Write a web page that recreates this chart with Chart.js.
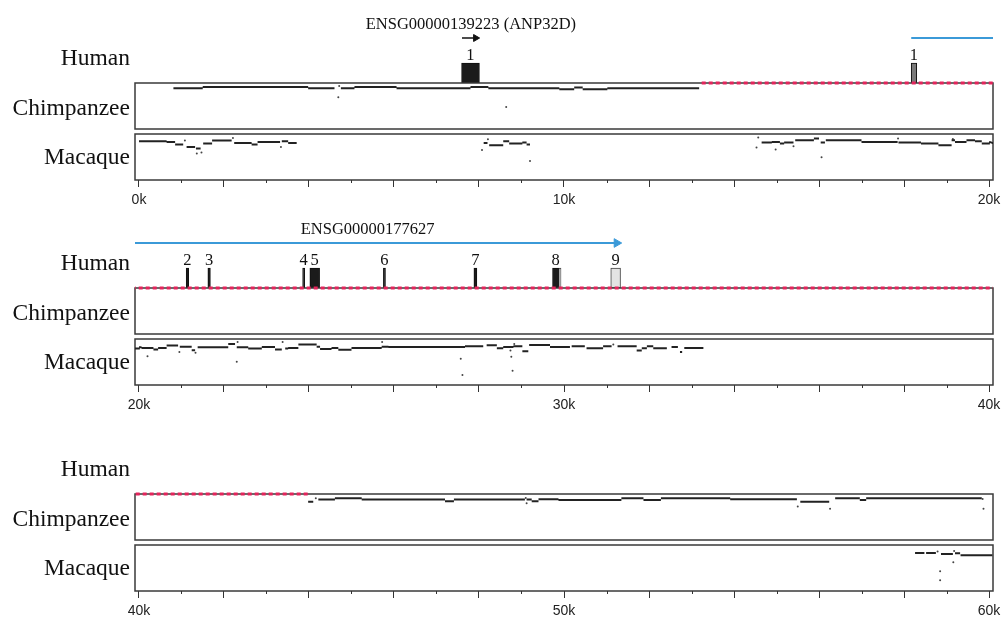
<!DOCTYPE html>
<html>
<head>
<meta charset="utf-8">
<script src="https://cdn.jsdelivr.net/npm/chart.js@4.4.1/dist/chart.umd.min.js"></script>
<style>
  html, body { margin: 0; padding: 0; background: #fff; overflow: hidden; }
  #wrap { position: relative; width: 1003px; height: 619px; overflow: hidden; }
  #wrap canvas { position: absolute; }
  .sp { position: absolute; left: 0; width: 130px; text-align: right; color: #111;
        font-family: "Liberation Serif", "Times New Roman", serif; font-size: 23.5px; line-height: 26px; }
</style>
</head>
<body>
<div id="wrap"></div>
<script>
// positions are in kb along the human sequence
const panelStart = [0, 20, 40];
const panelSpan = 20;
const species = ['Human', 'Chimpanzee', 'Macaque'];

// genes (direction arrows + names)
const geneName    = ['ENSG00000139223 (ANP32D)', 'ENSG00000177627'];
const geneLabelAt = [7.81, 25.38];
const geneStart   = [7.60, 18.17];
const geneEnd     = [7.92, 31.24];

// human exons
const exonStart = [7.59, 18.17, 21.11, 21.62, 23.85, 24.02, 25.75, 27.88, 29.73, 29.88, 31.10];
const exonEnd   = [8.01, 18.30, 21.17, 21.68, 23.90, 24.25, 25.80, 27.95, 29.88, 29.93, 31.33];
const exonLabel = ['1', '1', '2', '3', '4', '5', '6', '7', '8', '', '9'];
const exonKind  = ['cds', 'utr5', 'cds', 'cds', 'cds', 'cds', 'cds', 'cds', 'cds', 'utr3', 'utr3'];

// chimp has no alignment here (red dotted)
const chimpGap = [13.24, 43.98];

// gap-free alignments: [start kb, end kb, % identity]
const chimpSegs = [
  [0.81, 1.50, 94.3], [1.50, 3.98, 95.7], [3.98, 4.60, 94.3], [4.75, 5.07, 94.3],
  [5.07, 6.06, 95.7], [6.06, 7.80, 94.3], [7.80, 8.22, 95.7], [8.22, 9.89, 94.3],
  [9.89, 10.24, 93.2], [10.24, 10.44, 95.0], [10.44, 11.02, 93.2], [11.02, 13.18, 94.3],
  [43.98, 44.10, 91.7], [44.22, 44.61, 93.9], [44.61, 45.24, 95.3], [45.24, 47.20, 93.9],
  [47.20, 47.41, 92.0], [47.41, 49.08, 93.9], [49.12, 49.24, 93.9], [49.24, 49.40, 92.0],
  [49.40, 49.87, 94.2], [49.87, 51.35, 93.5], [51.35, 51.87, 95.3], [51.87, 52.28, 93.5],
  [52.28, 53.91, 95.3], [53.91, 55.48, 94.2], [55.56, 56.24, 91.7], [56.38, 56.96, 95.3],
  [56.96, 57.11, 93.5], [57.11, 59.83, 95.3]
];
const chimpDots = [
  [4.71, 96.8], [4.69, 84.6], [8.64, 73.9], [44.16, 95.3], [49.12, 89.9], [49.10, 95.7],
  [55.50, 86.4], [56.26, 83.9], [59.85, 94.7], [59.87, 83.9]
];

const macaqueSegs = [
  [0.00, 0.65, 92.1], [0.65, 0.85, 91.4], [0.85, 1.04, 88.6], [1.12, 1.32, 86.0],
  [1.34, 1.45, 84.3], [1.51, 1.72, 89.7], [1.72, 2.18, 92.9], [2.24, 2.65, 90.3],
  [2.65, 2.79, 88.6], [2.79, 3.32, 91.4], [3.36, 3.51, 92.1], [3.51, 3.71, 90.3],
  [8.11, 8.20, 90.3], [8.24, 8.57, 87.8], [8.57, 8.71, 92.1], [8.71, 9.02, 89.7],
  [9.02, 9.12, 90.8], [9.12, 9.20, 88.6],
  [14.65, 14.89, 90.8], [14.89, 15.08, 91.4], [15.08, 15.18, 89.7], [15.18, 15.40, 90.8],
  [15.44, 15.88, 93.2], [15.88, 16.00, 95.0], [16.04, 16.14, 90.8], [16.16, 17.00, 93.2],
  [17.00, 17.85, 91.4], [17.87, 18.40, 90.8], [18.40, 18.81, 89.7], [18.81, 19.12, 87.8],
  [19.12, 19.20, 93.2], [19.20, 19.47, 91.4], [19.47, 19.67, 93.2], [19.67, 19.83, 92.1],
  [19.83, 20.02, 89.7],
  [20.00, 20.06, 91.0], [20.06, 20.34, 90.3], [20.34, 20.45, 88.5], [20.45, 20.65, 90.3],
  [20.65, 20.92, 92.8], [20.96, 21.24, 91.7], [21.24, 21.32, 87.7], [21.38, 22.10, 91.0],
  [22.10, 22.26, 94.6], [22.30, 22.57, 91.0], [22.57, 22.89, 89.6], [22.89, 23.20, 91.4],
  [23.20, 23.36, 88.5], [23.44, 23.51, 89.6], [23.51, 23.75, 90.3], [23.75, 24.18, 93.9],
  [24.18, 24.26, 91.7], [24.26, 24.53, 89.2], [24.53, 24.69, 90.3], [24.69, 25.00, 88.2],
  [25.00, 25.71, 90.3], [25.71, 25.87, 91.7], [25.87, 27.12, 91.2], [27.12, 27.67, 91.4],
  [27.67, 28.10, 92.0], [28.18, 28.42, 93.1], [28.42, 28.57, 89.9], [28.57, 28.81, 91.4],
  [28.81, 29.02, 92.0], [29.02, 29.16, 86.7], [29.18, 29.67, 93.5], [29.67, 30.14, 91.4],
  [30.18, 30.49, 92.0], [30.53, 30.92, 89.9], [30.92, 31.12, 92.0], [31.26, 31.71, 92.0],
  [31.71, 31.83, 87.4], [31.83, 31.95, 89.9], [31.95, 32.10, 92.0], [32.10, 32.42, 89.9],
  [32.53, 32.68, 91.4], [32.73, 32.78, 86.0], [32.83, 33.28, 90.3],
  [58.26, 58.48, 91.4], [58.52, 58.75, 91.4], [58.87, 59.15, 90.3], [59.20, 59.32, 91.0],
  [59.33, 60.08, 88.8]
];
const macaqueDots = [
  [1.08, 92.9], [1.36, 78.9], [1.47, 80.0], [2.21, 95.7], [3.34, 86.0],
  [8.07, 82.5], [8.21, 94.3], [9.20, 70.6],
  [14.57, 96.1], [14.53, 85.4], [14.98, 83.2], [15.40, 86.8], [16.06, 74.6], [17.86, 95.0], [19.15, 94.6],
  [20.20, 81.3], [20.95, 86.0], [21.33, 85.0], [22.30, 75.3], [22.32, 96.8], [23.38, 96.8], [25.72, 96.8],
  [27.57, 78.5], [27.61, 60.8], [28.76, 80.6], [28.79, 65.5], [28.83, 94.6], [28.74, 87.4],
  [31.16, 93.9], [32.75, 86.0],
  [59.16, 81.3], [58.85, 71.6], [58.85, 61.6], [58.79, 92.8], [59.18, 93.6]
];

// layout / style
const PANEL_TOP = [0, 205, 411];
const EDGE = 0.094;          // box margin beyond the 0k / 20k ticks
const EXON_Y = 10, ARROW_Y = 45, NUM_Y = 23, NAME_Y = 54;
const exonColor = { cds: '#1b1b1b', utr5: '#7a7a7a', utr3: '#e3e3e3' };
const exonLine  = { cds: '#111', utr5: '#111', utr3: '#444' };
const geneColor = ['#111', '#3b9ad8'];
const serif = '"Liberation Serif", "Times New Roman", serif';
const PAD_X = { left: 22, right: 13 };

const wrap = document.getElementById('wrap');

function addCanvas(top, h) {
  const c = document.createElement('canvas');
  c.width = 893; c.height = h;
  c.style.left = '113px'; c.style.top = top + 'px';
  c.style.width = '893px'; c.style.height = h + 'px';
  wrap.appendChild(c);
  return c;
}

function addLabel(text, centerY) {
  const d = document.createElement('div');
  d.className = 'sp';
  d.textContent = text;
  d.style.top = (centerY - 13) + 'px';
  wrap.appendChild(d);
}

function toSteps(segs) {
  const pts = [];
  segs.forEach(([s, e, v]) => pts.push({ x: s, y: v }, { x: e, y: v }, { x: e, y: null }));
  return pts;
}

const boxBorder = {
  id: 'boxBorder',
  beforeDatasetsDraw(chart) {
    const { ctx, chartArea: a } = chart;
    ctx.save();
    ctx.strokeStyle = '#3a3a3a';
    ctx.lineWidth = 1.5;
    ctx.strokeRect(a.left, a.top, a.right - a.left, a.bottom - a.top);
    ctx.restore();
  }
};

const minorTicks = {
  id: 'minorTicks',
  afterDraw(chart) {
    const { ctx, chartArea: a, scales: { x } } = chart;
    ctx.save();
    ctx.strokeStyle = '#333';
    ctx.lineWidth = 1;
    ctx.beginPath();
    x.ticks.forEach(t => {
      if (Math.round(t.value) % 2 === 0) return;
      const px = Math.round(x.getPixelForValue(t.value)) + 0.5;
      ctx.moveTo(px, a.bottom);
      ctx.lineTo(px, a.bottom + 3);
    });
    ctx.stroke();
    ctx.restore();
  }
};

const humanText = {
  id: 'humanText',
  afterDatasetsDraw(chart) {
    const { ctx, scales: { x, y } } = chart;
    ctx.save();
    ctx.fillStyle = '#111';
    ctx.textAlign = 'center';
    ctx.textBaseline = 'alphabetic';
    ctx.font = '16.5px ' + serif;
    exonStart.forEach((s, i) => {
      const c = (s + exonEnd[i]) / 2;
      if (!exonLabel[i] || c < x.min || c > x.max) return;
      ctx.fillText(exonLabel[i], x.getPixelForValue(c), y.getPixelForValue(NUM_Y));
    });
    geneName.forEach((n, i) => {
      const c = geneLabelAt[i];
      if (c < x.min || c > x.max) return;
      ctx.fillText(n, x.getPixelForValue(c), y.getPixelForValue(NAME_Y));
    });
    ctx.restore();
  }
};

const common = {
  responsive: false,
  animation: false,
  events: [],
  plugins: { legend: { display: false }, tooltip: { enabled: false } }
};

function xScale(p, show) {
  const lo = panelStart[p];
  const sc = {
    type: 'linear', offset: false,
    min: lo - EDGE, max: lo + panelSpan + EDGE,
    display: show
  };
  if (show) {
    Object.assign(sc, {
      border: { display: false },
      grid: {
        drawOnChartArea: false, drawTicks: true, tickLength: 7, tickWidth: 1, offset: false,
        tickColor: c => (Math.round(c.tick.value) % 2 === 0 ? '#333' : 'rgba(0,0,0,0)')
      },
      ticks: {
        autoSkip: false, maxRotation: 0, minRotation: 0, padding: 5, color: '#222',
        font: { family: '"Liberation Sans", Arial, sans-serif', size: 14 },
        callback: v => (Math.round(v) % 10 === 0 ? Math.round(v) + 'k' : '')
      },
      afterBuildTicks: s => {
        const t = [];
        for (let k = lo; k <= lo + panelSpan; k++) t.push({ value: k });
        s.ticks = t;
      },
      afterFit: s => { s.height = 28; }
    });
  }
  return sc;
}

function humanChart(canvas, p) {
  const datasets = [
    {
      type: 'bar', indexAxis: 'y', grouped: false,
      data: exonStart.map((s, i) => ({ x: [s, exonEnd[i]], y: EXON_Y })),
      backgroundColor: exonKind.map(k => exonColor[k]),
      borderColor: exonKind.map(k => exonLine[k]),
      borderWidth: 1, borderSkipped: false, barThickness: 20
    }
  ];
  geneStart.forEach((s, i) => {
    datasets.push({
      type: 'line', indexAxis: 'x',
      data: [{ x: s, y: ARROW_Y }, { x: geneEnd[i], y: ARROW_Y }],
      borderColor: geneColor[i], borderWidth: i ? 2 : 1.5,
      pointStyle: 'triangle', rotation: 90,
      pointRadius: c => (c.dataIndex === 1 ? (i ? 5 : 4) : 0),
      pointBackgroundColor: geneColor[i], pointBorderColor: geneColor[i], pointBorderWidth: 1
    });
  });
  return new Chart(canvas, {
    type: 'bar',
    data: { datasets },
    options: {
      ...common,
      layout: { autoPadding: false, padding: { ...PAD_X, top: 0, bottom: 0 } },
      scales: {
        x: xScale(p, false),
        y: { type: 'linear', offset: false, min: 0, max: 73, display: false }
      }
    },
    plugins: [humanText]
  });
}

function trackChart(canvas, p, segs, dots, gap, withAxis) {
  const datasets = [];
  if (gap) {
    datasets.push({
      data: [{ x: gap[0], y: 100 }, { x: gap[1], y: 100 }],
      borderColor: '#e5245c', borderWidth: 3, borderDash: [4, 3], pointRadius: 0,
      clip: { left: 0, right: 0, top: 5, bottom: 0 }
    });
  }
  datasets.push({
    data: toSteps(segs), borderColor: '#222', borderWidth: 2, pointRadius: 0, spanGaps: false
  });
  datasets.push({
    type: 'scatter', data: dots.map(d => ({ x: d[0], y: d[1] })),
    pointRadius: 1, pointBackgroundColor: '#444', pointBorderWidth: 0
  });
  return new Chart(canvas, {
    type: 'line',
    data: { datasets },
    options: {
      ...common,
      layout: { autoPadding: false, padding: { ...PAD_X, top: 2, bottom: withAxis ? 0 : 2 } },
      scales: {
        x: xScale(p, withAxis),
        y: { type: 'linear', min: 50, max: 100, display: false }
      }
    },
    plugins: withAxis ? [boxBorder, minorTicks] : [boxBorder]
  });
}

panelStart.forEach((_, p) => {
  const P = PANEL_TOP[p];
  humanChart(addCanvas(P + 10, 73), p);
  trackChart(addCanvas(P + 81, 50), p, chimpSegs, chimpDots, chimpGap, false);
  trackChart(addCanvas(P + 132, 76), p, macaqueSegs, macaqueDots, null, true);
  addLabel(species[0], P + 57);
  addLabel(species[1], P + 107);
  addLabel(species[2], P + 156);
});
</script>
</body>
</html>
